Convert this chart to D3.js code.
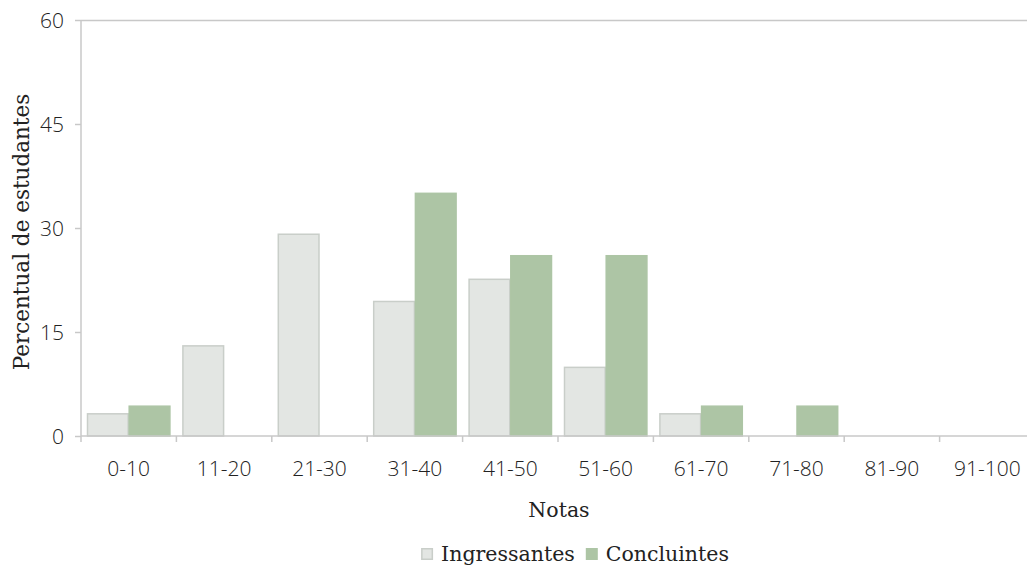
<!DOCTYPE html>
<html>
<head>
<meta charset="utf-8">
<script src="https://cdn.jsdelivr.net/npm/d3@7"></script>
<style>
  body { margin: 0; background: #fff; }
  svg { display: block; }
  .tick text { font-family: "Open Sans", sans-serif; font-weight: 300; font-size: 21px; fill: #222; }
  .ttl { font-family: "DejaVu Serif", serif; font-size: 20.5px; fill: #222; }
</style>
</head>
<body>
<svg id="chart" width="1027" height="566"></svg>
<script>
(function() {
  'use strict';
  var categories = ['0-10', '11-20', '21-30', '31-40', '41-50', '51-60', '61-70', '71-80', '81-90', '91-100'];
  var series = ['Ingressantes', 'Concluintes'];
  var ingressantes = [3.2, 13.0, 29.1, 19.4, 22.6, 9.9, 3.2, 0, 0, 0];
  var concluintes = [4.3, 0, 0, 35.0, 26.0, 26.0, 4.3, 4.3, 0, 0];
  var yTicks = [0, 15, 30, 45, 60];
  var fills = ['#e3e6e3', '#adc5a5'];
  var strokes = ['#c9cec9', '#adc5a5'];
  var axisColor = '#c8c8c8';

  var svg = d3.select('#chart'),
    left = 81, top = 20, bottom = 436, right = 1035;

  var x0 = d3.scaleBand().domain(categories).range([left, right]).padding(0);
  var x1 = d3.scaleBand().domain(series).range([6, x0.bandwidth() - 6]).padding(0);
  var y = d3.scaleLinear().domain([0, 60]).range([bottom, top]);

  // top border
  svg.append('line')
    .attr('x1', left).attr('x2', 1027)
    .attr('y1', top + 0.5).attr('y2', top + 0.5)
    .attr('stroke', axisColor).attr('stroke-width', 1.5);

  // bars
  var values = [ingressantes, concluintes];
  var groups = svg.append('g').selectAll('g')
    .data(categories)
    .enter().append('g')
    .attr('transform', function(d) { return 'translate(' + x0(d) + ',0)'; });

  groups.selectAll('rect')
    .data(function(d, i) {
      return series.map(function(s, k) { return {s: s, k: k, v: values[k][i]}; });
    })
    .enter().filter(function(d) { return d.v > 0; })
    .append('rect')
    .attr('x', function(d) { return x1(d.s) + 0.5; })
    .attr('width', x1.bandwidth() - 1)
    .attr('y', function(d) { return y(d.v); })
    .attr('height', function(d) { return y(0) - y(d.v); })
    .attr('fill', function(d) { return fills[d.k]; })
    .attr('stroke', function(d) { return strokes[d.k]; })
    .attr('stroke-width', 1.5);

  // y axis
  var yAxis = svg.append('g')
    .attr('transform', 'translate(' + left + ',0)')
    .call(d3.axisLeft(y).tickValues(yTicks).tickSize(6).tickPadding(11));
  yAxis.select('.domain').attr('stroke', axisColor).attr('stroke-width', 1.5)
    .attr('d', 'M0,' + top + 'V' + bottom);
  yAxis.selectAll('.tick line').attr('stroke', axisColor).attr('stroke-width', 1.5);
  yAxis.selectAll('.tick text').attr('dy', '0.36em');

  // x axis
  var xAxis = svg.append('g')
    .attr('transform', 'translate(0,' + bottom + ')')
    .call(d3.axisBottom(x0).tickSize(0));
  xAxis.select('.domain').attr('stroke', axisColor).attr('stroke-width', 1.5)
    .attr('d', 'M' + left + ',0H' + right);
  xAxis.selectAll('.tick text').attr('y', 40).attr('dy', 0);
  // ticks between the bands
  xAxis.append('g').selectAll('line')
    .data(categories)
    .enter().append('line')
    .attr('x1', function(d) { return x0(d); })
    .attr('x2', function(d) { return x0(d); })
    .attr('y1', 0).attr('y2', 6)
    .attr('stroke', axisColor).attr('stroke-width', 1.5);

  // titles
  svg.append('text').attr('class', 'ttl')
    .attr('text-anchor', 'middle')
    .style('font-size', '21.5px')
    .attr('transform', 'translate(29,232) rotate(-90)')
    .text('Percentual de estudantes');

  svg.append('text').attr('class', 'ttl')
    .attr('text-anchor', 'middle')
    .attr('x', 559).attr('y', 517)
    .text('Notas');

  // legend
  var legend = svg.append('g');
  var lx = 0;
  series.forEach(function(s, k) {
    legend.append('rect')
      .attr('x', lx + 0.75).attr('y', 548.75)
      .attr('width', 10.5).attr('height', 10.5)
      .attr('fill', fills[k]).attr('stroke', strokes[k]).attr('stroke-width', 1.5);
    var t = legend.append('text').attr('class', 'ttl')
      .attr('x', lx + 20).attr('y', 561)
      .text(s);
    lx += 20 + t.node().getComputedTextLength() + 11;
  });
  legend.attr('transform', 'translate(' + (575 - (lx - 11) / 2) + ',0)');
}());
</script>
</body>
</html>
